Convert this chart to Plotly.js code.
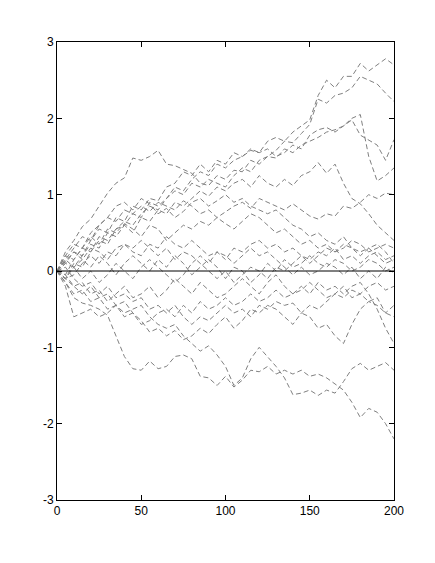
<!DOCTYPE html>
<html>
<head>
<meta charset="utf-8">
<script src="https://cdn.plot.ly/plotly-3.0.1.min.js"></script>
<style>
html,body{margin:0;padding:0;background:#fff;}
#chart{width:435px;height:563px;}
</style>
</head>
<body>
<div id="chart"></div>
<script>
// step positions (x)
var steps = [0,5,10,15,20,25,30,35,40,45,50,55,60,65,70,75,80,85,90,95,100,105,110,115,120,125,130,135,140,145,150,155,160,165,170,175,180,185,190,195,200];

// path values (approximate)
var p01 = [0,0.12,0.25,0.2,0.4,0.55,0.5,0.7,0.65,0.85,0.8,0.95,0.92,1.1,1.15,1.3,1.25,1.4,1.3,1.45,1.4,1.55,1.5,1.6,1.55,1.7,1.75,1.7,1.82,1.9,1.98,2.3,2.5,2.4,2.55,2.55,2.72,2.62,2.7,2.78,2.7];
var p02 = [0,0.25,0.4,0.58,0.68,0.85,1.02,1.15,1.22,1.48,1.45,1.5,1.58,1.4,1.38,1.33,1.28,1.15,1.12,1.25,1.2,1.32,1.3,1.45,1.4,1.5,1.58,1.7,1.68,1.8,1.92,2.25,2.2,2.3,2.33,2.4,2.55,2.5,2.45,2.33,2.22];
var p03 = [0,-0.05,0.15,0.3,0.25,0.45,0.4,0.55,0.65,0.6,0.75,0.85,0.8,0.95,1.05,1.0,1.15,1.1,1.2,1.15,1.1,1.25,1.35,1.3,1.45,1.5,1.48,1.6,1.55,1.65,1.7,1.75,1.82,1.85,1.9,2.0,2.05,1.5,1.18,1.25,1.35];
var p04 = [0,0.1,0.05,0.2,0.35,0.3,0.5,0.45,0.6,0.75,0.7,0.9,0.85,0.95,1.1,1.05,1.2,1.3,1.25,1.4,1.35,1.45,1.5,1.58,1.55,1.6,1.5,1.55,1.65,1.6,1.78,1.85,1.88,1.82,1.9,1.98,1.78,1.72,1.65,1.45,1.72];
var p05 = [0,0.15,0.3,0.45,0.4,0.6,0.7,0.65,0.8,0.75,0.85,0.78,0.9,0.85,0.8,0.92,0.85,0.75,0.8,0.7,0.78,0.85,0.9,0.82,0.95,0.9,0.85,0.8,0.88,0.8,0.72,0.68,0.75,0.72,0.85,0.82,0.9,1.0,0.95,1.02,1.0];
var p06 = [0,-0.1,0.1,0.05,0.25,0.4,0.35,0.55,0.6,0.5,0.7,0.65,0.8,0.75,0.9,0.85,0.95,1.05,0.98,1.1,1.05,1.15,1.2,1.1,1.25,1.15,1.1,1.2,1.12,1.25,1.3,1.42,1.28,1.4,1.15,0.95,0.88,0.75,0.6,0.5,0.4];
var p07 = [0,0.2,0.15,0.3,0.45,0.35,0.55,0.5,0.62,0.55,0.45,0.6,0.55,0.4,0.5,0.6,0.55,0.65,0.6,0.7,0.62,0.55,0.65,0.75,0.7,0.6,0.5,0.55,0.45,0.35,0.4,0.3,0.35,0.25,0.3,0.4,0.35,0.25,0.3,0.35,0.3];
var p08 = [0,0.1,0.25,0.15,0.3,0.25,0.15,0.3,0.35,0.25,0.2,0.35,0.3,0.45,0.35,0.3,0.4,0.3,0.2,0.25,0.15,0.3,0.25,0.35,0.4,0.3,0.35,0.25,0.3,0.2,0.15,0.25,0.2,0.3,0.15,0.2,0.1,0.2,0.25,0.15,0.2];
var p09 = [0,-0.1,0.05,0.15,0.05,0.2,0.1,-0.05,0.1,0.2,0.1,0.0,0.15,0.05,0.2,0.1,-0.05,0.05,0.15,0.05,-0.1,0.05,0.0,-0.15,-0.05,0.1,0.0,0.15,0.05,0.1,0.2,0.1,0.05,0.15,0.1,0.0,0.05,0.15,0.1,0.0,0.05];
var p10 = [0,0.15,0.05,-0.1,0.0,-0.15,-0.05,0.1,0.0,-0.1,0.05,0.15,0.05,-0.05,-0.15,-0.05,0.1,0.2,0.1,0.25,0.2,0.1,0.2,0.3,0.2,0.25,0.15,0.05,-0.05,0.05,-0.05,0.0,0.1,0.05,-0.05,0.05,-0.1,0.0,-0.1,0.05,-0.03];
var p11 = [0,-0.1,-0.2,-0.15,-0.3,-0.25,-0.4,-0.3,-0.2,-0.35,-0.3,-0.2,-0.35,-0.25,-0.1,-0.2,-0.3,-0.15,-0.25,-0.35,-0.3,-0.2,-0.1,-0.2,-0.3,-0.15,-0.05,-0.2,-0.3,-0.25,-0.15,-0.25,-0.35,-0.3,-0.2,-0.35,-0.3,-0.4,-0.35,-0.55,-0.45];
var p12 = [0,0.05,-0.1,-0.2,-0.15,-0.3,-0.2,-0.35,-0.3,-0.4,-0.35,-0.5,-0.45,-0.55,-0.45,-0.6,-0.7,-0.6,-0.65,-0.55,-0.45,-0.55,-0.5,-0.6,-0.45,-0.5,-0.4,-0.45,-0.42,-0.55,-0.6,-0.75,-0.7,-0.85,-0.95,-0.7,-0.5,-0.4,-0.45,-0.55,-0.6];
var p13 = [0,-0.15,-0.3,-0.25,-0.4,-0.35,-0.5,-0.45,-0.6,-0.55,-0.7,-0.65,-0.55,-0.5,-0.6,-0.45,-0.55,-0.4,-0.5,-0.45,-0.35,-0.45,-0.4,-0.3,-0.4,-0.35,-0.25,-0.35,-0.3,-0.2,-0.3,-0.15,-0.25,-0.2,-0.3,-0.2,-0.15,-0.3,-0.5,-0.75,-0.95];
var p14 = [0,-0.2,-0.6,-0.55,-0.5,-0.6,-0.55,-0.45,-0.55,-0.5,-0.45,-0.6,-0.7,-0.75,-0.7,-0.85,-0.95,-1.05,-0.98,-1.1,-1.25,-1.5,-1.4,-1.15,-1.0,-1.12,-1.25,-1.4,-1.62,-1.6,-1.56,-1.63,-1.56,-1.6,-1.45,-1.28,-1.21,-1.3,-1.25,-1.2,-1.3];
var p15 = [0,-0.05,-0.2,-0.3,-0.2,-0.35,-0.3,-0.45,-0.4,-0.55,-0.65,-0.8,-0.75,-0.85,-0.78,-0.9,-0.85,-0.75,-0.82,-0.7,-0.6,-0.75,-0.65,-0.5,-0.55,-0.45,-0.5,-0.6,-0.7,-0.55,-0.45,-0.5,-0.4,-0.3,-0.35,-0.25,-0.3,-0.2,-0.15,-0.25,-0.2];
var p16 = [0,0.2,0.35,0.3,0.5,0.6,0.7,0.85,0.9,0.8,0.95,0.88,0.75,0.82,0.7,0.78,0.9,0.95,0.85,0.92,1.0,0.9,0.95,0.85,0.8,0.75,0.8,0.7,0.6,0.55,0.45,0.5,0.4,0.35,0.45,0.3,0.25,0.3,0.2,0.1,0.15];
var p17 = [0,-0.1,-0.05,0.1,0.2,0.1,0.25,0.2,0.35,0.3,0.4,0.3,0.2,0.3,0.15,0.25,0.2,0.1,0.0,-0.1,0.0,-0.15,-0.05,0.05,0.0,-0.1,0.05,0.0,0.1,0.2,0.1,0.2,0.3,0.25,0.35,0.3,0.2,0.3,0.35,0.25,0.1];
var p18 = [0,-0.15,-0.35,-0.42,-0.45,-0.5,-0.58,-0.85,-1.12,-1.28,-1.3,-1.18,-1.28,-1.25,-1.12,-1.1,-1.15,-1.38,-1.4,-1.5,-1.38,-1.52,-1.43,-1.3,-1.32,-1.25,-1.35,-1.3,-1.35,-1.3,-1.38,-1.35,-1.4,-1.48,-1.56,-1.72,-1.92,-1.8,-1.85,-2.0,-2.2];

var paths = [p01,p02,p03,p04,p05,p06,p07,p08,p09,p10,p11,p12,p13,p14,p15,p16,p17,p18];

// zero reference line
var zeroX = [0, 200];
var zeroY = [0, 0];

var xTicks = [0, 50, 100, 150, 200];
var yTicks = [-3, -2, -1, 0, 1, 2, 3];

var traces = paths.map(function (p) {
  return {
    x: steps, y: p, type: 'scatter', mode: 'lines',
    line: {color: '#808080', width: 1, dash: '5px,3px'},
    hoverinfo: 'skip', showlegend: false
  };
});
traces.push({
  x: zeroX, y: zeroY, type: 'scatter', mode: 'lines',
  line: {color: '#000000', width: 1}, hoverinfo: 'skip', showlegend: false
});

var axisCommon = {
  showgrid: false, zeroline: false, showline: true, linecolor: '#000', linewidth: 1,
  mirror: 'ticks', ticks: 'inside', ticklen: 5, tickcolor: '#000', tickwidth: 1,
  tickfont: {family: 'Arial, "Liberation Sans", sans-serif', size: 12, color: '#000'}
};

var layout = {
  width: 435, height: 563,
  margin: {l: 57, r: 41, t: 42, b: 63},
  paper_bgcolor: '#fff', plot_bgcolor: '#fff',
  showlegend: false,
  xaxis: Object.assign({}, axisCommon, {range: [0, 200], tickvals: xTicks, ticktext: xTicks.map(String)}),
  yaxis: Object.assign({}, axisCommon, {range: [-3, 3], tickvals: yTicks, ticktext: yTicks.map(String)})
};

Plotly.newPlot('chart', traces, layout, {staticPlot: true, displayModeBar: false});
</script>
</body>
</html>
